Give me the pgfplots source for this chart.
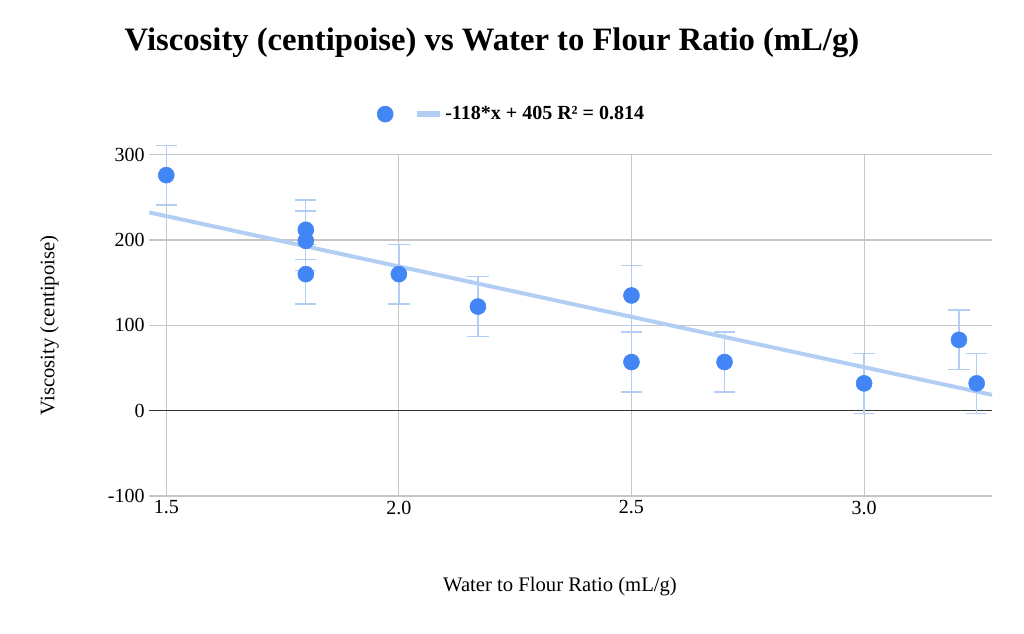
\documentclass[border=0pt]{standalone}
\usepackage{pgfplots}
\pgfplotsset{compat=1.18}
\usepackage{fontspec}
\setmainfont{Liberation Serif}
\definecolor{pt}{HTML}{4285F4}
\definecolor{tl}{HTML}{B3CEF5}
\begin{document}
\begin{tikzpicture}
\useasboundingbox (-112pt,-103pt) rectangle (656pt,372pt);
\begin{axis}[
  scale only axis, width=632pt, height=256pt,
  xmin=1.4636, xmax=3.275, ymin=-100, ymax=300,
  xtick={1.5,2.0,2.5,3.0}, ytick={-100,0,100,200,300},
  xticklabel style={/pgf/number format/.cd,fixed,fixed zerofill,precision=1},
  /pgf/number format/assume math mode=true,
  tick label style={font=\fontsize{15}{17}\selectfont},
  grid=major, grid style={gray!45, line width=0.8pt},
  axis line style={draw=none}, tick style={draw=none},
  xlabel={Water to Flour Ratio (mL/g)}, ylabel={Viscosity (centipoise)},
  label style={font=\fontsize{15.5}{18}\selectfont},
  xlabel style={yshift=-40pt, xshift=-8pt},
  ylabel style={yshift=30pt},
  title={\textbf{Viscosity (centipoise) vs Water to Flour Ratio (mL/g)}},
  title style={font=\fontsize{24.5}{28}\selectfont, yshift=63pt, xshift=-59pt},
  legend style={at={(0.5,1.08)}, anchor=south, draw=none, legend columns=2, xshift=-44pt,
    font=\bfseries\fontsize{15}{18}\selectfont, /tikz/every even column/.append style={column sep=12pt}},
  clip=false,
]
\draw[black!80, line width=0.8pt] (axis cs:1.4636,0) -- (axis cs:3.275,0);
\addplot[only marks, mark=*, mark size=6pt, color=pt,
  error bars/.cd, y dir=both, y explicit,
  error bar style={tl, line width=1pt}, error mark options={tl, line width=1pt, mark size=8pt, rotate=90}]
  coordinates {
  (1.5,276) +- (0,35)
  (1.8,212) +- (0,35)
  (1.8,199) +- (0,35)
  (1.8,160) +- (0,35)
  (2.0,160) +- (0,35)
  (2.17,122) +- (0,35)
  (2.5,135) +- (0,35)
  (2.5,57) +- (0,35)
  (2.7,57) +- (0,35)
  (3.0,32) +- (0,35)
  (3.204,83) +- (0,35)
  (3.242,32) +- (0,35)
  };
\addlegendentry{}
\addplot[tl, line width=3pt, forget plot] coordinates {(1.4636,232.3) (3.275,18.5)};
\addlegendimage{tl, line width=4pt}
\addlegendentry{-118*x + 405 R² = 0.814}
\end{axis}
\end{tikzpicture}
\end{document}
